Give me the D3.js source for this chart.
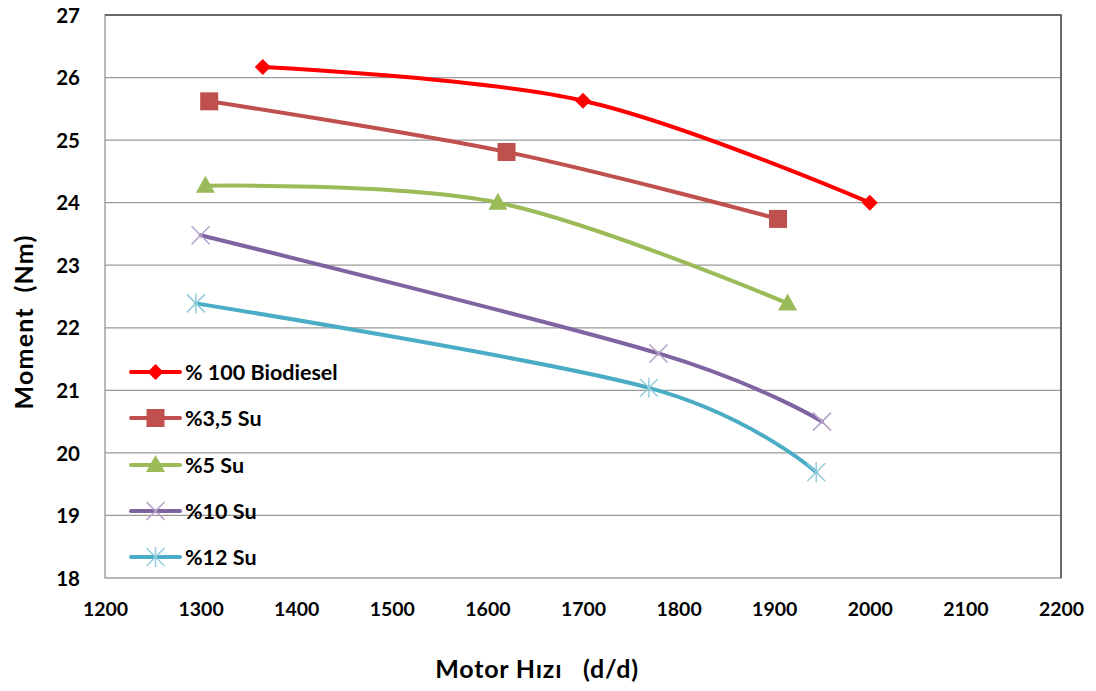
<!DOCTYPE html>
<html>
<head>
<meta charset="utf-8">
<script src="https://cdn.jsdelivr.net/npm/d3@7"></script>
<style>
  html, body { margin: 0; padding: 0; background: #fff; }
  svg text { font-family: Lato, "Open Sans", "Liberation Sans", sans-serif; font-weight: bold; fill: #000; white-space: pre; }
</style>
</head>
<body>
<svg id="chart" width="1096" height="691"></svg>
<script>
// Torque vs. engine speed for biodiesel and water-emulsion blends
const seriesNames = ["% 100 Biodiesel", "%3,5 Su", "%5 Su", "%10 Su", "%12 Su"];
const speedBiodiesel = [1365, 1700, 2000];
const torqueBiodiesel = [26.17, 25.63, 24.0];
const speedSu35 = [1309, 1620, 1904];
const torqueSu35 = [25.62, 24.81, 23.74];
const speedSu5 = [1305, 1611, 1914];
const torqueSu5 = [24.27, 24.0, 22.39];
const speedSu10 = [1300, 1779, 1950];
const torqueSu10 = [23.48, 21.59, 20.5];
const speedSu12 = [1295, 1769, 1944];
const torqueSu12 = [22.39, 21.04, 19.69];
const xTicks = [1200, 1300, 1400, 1500, 1600, 1700, 1800, 1900, 2000, 2100, 2200];
const yTicks = [18, 19, 20, 21, 22, 23, 24, 25, 26, 27];

const speeds = [speedBiodiesel, speedSu35, speedSu5, speedSu10, speedSu12];
const torques = [torqueBiodiesel, torqueSu35, torqueSu5, torqueSu10, torqueSu12];
const lineColors = ["#FF0000", "#C0504D", "#9BBB59", "#8064A2", "#4BACC6"];
const markerColors = ["#FF0000", "#C0504D", "#9BBB59", "#B3A2C7", "#93CDDD"];
const markerTypes = ["diamond", "square", "triangle", "cross", "star"];

const svg = d3.select("#chart");
const m = { left: 105, right: 1061, top: 15, bottom: 578 };

const x = d3.scaleLinear().domain([1200, 2200]).range([m.left, m.right]);
const y = d3.scaleLinear().domain([18, 27]).range([m.bottom, m.top]);

// horizontal gridlines
svg.append("g").selectAll("line").data(yTicks.slice(1)).join("line")
  .attr("x1", m.left).attr("x2", m.right)
  .attr("y1", d => y(d)).attr("y2", d => y(d))
  .attr("stroke", "#9a9a9a").attr("stroke-width", 1.2);

// plot frame
svg.append("rect")
  .attr("x", m.left).attr("y", m.top)
  .attr("width", m.right - m.left).attr("height", m.bottom - m.top)
  .attr("fill", "none").attr("stroke", "#8c8c8c").attr("stroke-width", 1.2);
svg.append("path")
  .attr("d", `M${m.left},${m.top}H${m.right}V${m.bottom}`)
  .attr("fill", "none").attr("stroke", "#555").attr("stroke-width", 1.6);

// axes (labels only)
const yAxis = d3.axisLeft(y).tickValues(yTicks).tickSize(0).tickPadding(25).tickFormat(d3.format("d"));
svg.append("g").attr("transform", `translate(${m.left},0)`).call(yAxis)
  .call(g => g.select(".domain").remove())
  .selectAll("text").style("font-size", "20.5px").attr("dy", "0.35em");

const xAxis = d3.axisBottom(x).tickValues(xTicks).tickSize(0).tickPadding(24).tickFormat(d3.format("d"));
svg.append("g").attr("transform", `translate(0,${m.bottom})`).call(xAxis)
  .call(g => g.select(".domain").remove())
  .selectAll("text").style("font-size", "19.5px");

// axis titles
svg.append("text").attr("x", 537).attr("y", 678).attr("text-anchor", "middle")
  .style("font-size", "25px").style("letter-spacing", "0.8px").text("Motor Hızı   (d/d)");
svg.append("text").attr("transform", "translate(33,322) rotate(-90)").attr("text-anchor", "middle")
  .style("font-size", "25px").style("letter-spacing", "1.2px").text("Moment  (Nm)");

// marker drawing
function drawMarker(g, type, cx, cy, color) {
  if (type === "diamond") {
    g.append("path").attr("d", `M${cx},${cy - 8}L${cx + 8},${cy}L${cx},${cy + 8}L${cx - 8},${cy}Z`).attr("fill", color);
  } else if (type === "square") {
    g.append("rect").attr("x", cx - 9).attr("y", cy - 9).attr("width", 18).attr("height", 18).attr("fill", color);
  } else if (type === "triangle") {
    g.append("path").attr("d", `M${cx},${cy - 10}L${cx + 9.5},${cy + 7}L${cx - 9.5},${cy + 7}Z`).attr("fill", color);
  } else if (type === "cross") {
    g.append("path").attr("d", `M${cx - 9},${cy - 9}L${cx + 9},${cy + 9}M${cx - 9},${cy + 9}L${cx + 9},${cy - 9}`)
      .attr("stroke", color).attr("stroke-width", 1.5).attr("fill", "none");
  } else if (type === "star") {
    g.append("path").attr("d", `M${cx - 9},${cy - 9}L${cx + 9},${cy + 9}M${cx - 9},${cy + 9}L${cx + 9},${cy - 9}M${cx},${cy - 10}L${cx},${cy + 10}`)
      .attr("stroke", color).attr("stroke-width", 1.5).attr("fill", "none");
  }
}

// series lines (smoothed) and markers
const line = d3.line().x(d => x(d[0])).y(d => y(d[1])).curve(d3.curveCatmullRom.alpha(0));
seriesNames.forEach((name, i) => {
  const pts = speeds[i].map((s, k) => [s, torques[i][k]]);
  const g = svg.append("g");
  g.append("path").datum(pts).attr("d", line)
    .attr("fill", "none").attr("stroke", lineColors[i]).attr("stroke-width", 4).attr("stroke-linecap", "round");
  pts.forEach(p => drawMarker(g, markerTypes[i], x(p[0]), y(p[1]), markerColors[i]));
});

// legend
const legendY = [372, 418, 465, 511, 557];
seriesNames.forEach((name, i) => {
  const g = svg.append("g");
  g.append("line").attr("x1", 131).attr("x2", 180).attr("y1", legendY[i]).attr("y2", legendY[i])
    .attr("stroke", lineColors[i]).attr("stroke-width", 4).attr("stroke-linecap", "round");
  drawMarker(g, markerTypes[i], 155.5, legendY[i], markerColors[i]);
  g.append("text").attr("x", 185).attr("y", legendY[i]).attr("dy", "0.35em")
    .style("font-size", "21.5px").text(name);
});
</script>
</body>
</html>
